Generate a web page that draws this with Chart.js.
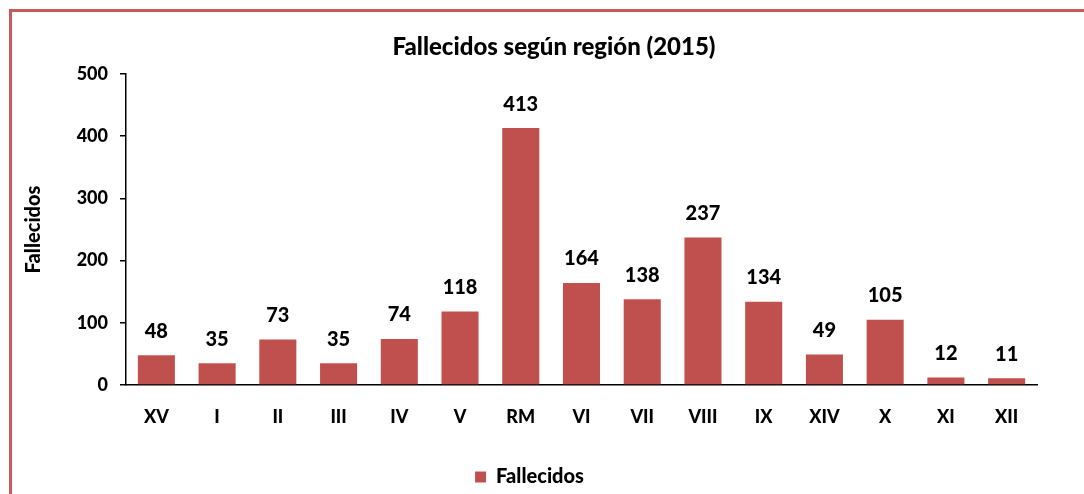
<!DOCTYPE html>
<html>
<head>
<meta charset="utf-8">
<script src="https://cdn.jsdelivr.net/npm/chart.js@4"></script>
<style>
  body { margin: 0; background: #fff; overflow: hidden; }
  #wrap { position: relative; width: 1084px; height: 494px; }
  #frame { position: absolute; left: 9px; top: 9px; width: 1100px; height: 520px; border: 3px solid #c9595a; }
  canvas { position: absolute; left: 0; top: 0; }
</style>
</head>
<body>
<div id="wrap">
  <div id="frame"></div>
  <canvas id="barChart" width="1084" height="494"></canvas>
</div>
<script>
const regions = ["XV", "I", "II", "III", "IV", "V", "RM", "VI", "VII", "VIII", "IX", "XIV", "X", "XI", "XII"];
const deaths = [48, 35, 73, 35, 74, 118, 413, 164, 138, 237, 134, 49, 105, 12, 11];
const yTicks = [0, 100, 200, 300, 400, 500];
const chartTitle = "Fallecidos según región (2015)";

const fontName = "Lato, 'Open Sans', sans-serif";
const heavy = "900";

// numbers over the bars + the title (the original title is not centred on the canvas)
const barLabels = {
  id: "barLabels",
  afterDatasetsDraw(chart) {
    const ctx = chart.ctx;
    const meta = chart.getDatasetMeta(0);
    ctx.save();
    ctx.font = heavy + " 20px " + fontName;
    ctx.fillStyle = "#000";
    ctx.textAlign = "center";
    ctx.textBaseline = "bottom";
    meta.data.forEach((bar, i) => {
      ctx.fillText(deaths[i], bar.x, bar.y - 14);
    });
    ctx.font = heavy + " 24px " + fontName;
    ctx.textBaseline = "middle";
    ctx.fillText(chartTitle, 554, 47);
    ctx.restore();
  },
};

const ctx = document.getElementById("barChart");
new Chart(ctx, {
  type: "bar",
  data: {
    labels: regions,
    datasets: [
      {
        label: "Fallecidos",
        data: deaths,
        backgroundColor: "#c0504d",
        barPercentage: 0.61,
        categoryPercentage: 1,
      },
    ],
  },
  plugins: [barLabels],
  options: {
    responsive: false,
    animation: false,
    layout: { padding: { left: 22, right: 47, top: 74, bottom: -3 } },
    plugins: {
      title: { display: false },
      legend: {
        position: "bottom",
        labels: {
          color: "#000",
          font: { family: fontName, size: 20, weight: heavy },
          boxWidth: 11,
          boxHeight: 11,
          padding: 4,
        },
      },
      tooltip: { enabled: false },
    },
    scales: {
      x: {
        grid: { display: false },
        border: { display: true, color: "#000", width: 1.5 },
        ticks: {
          color: "#000",
          padding: 13,
          font: { family: fontName, size: 18, weight: heavy },
        },
        afterFit(scale) {
          scale.height = 78;
        },
      },
      y: {
        min: 0,
        max: 500,
        afterBuildTicks(scale) {
          scale.ticks = yTicks.map((v) => ({ value: v }));
        },
        grid: { drawOnChartArea: false, drawTicks: true, tickLength: 6, color: "#000", lineWidth: 1.5 },
        border: { display: true, color: "#000", width: 1.5 },
        ticks: {
          color: "#000",
          padding: 12,
          font: { family: fontName, size: 18, weight: heavy },
        },
        title: {
          display: true,
          text: "Fallecidos",
          color: "#000",
          font: { family: fontName, size: 20, weight: heavy },
          padding: { top: 0, bottom: 20 },
        },
        afterFit(scale) {
          scale.width = 104;
        },
      },
    },
  },
});
</script>
</body>
</html>
